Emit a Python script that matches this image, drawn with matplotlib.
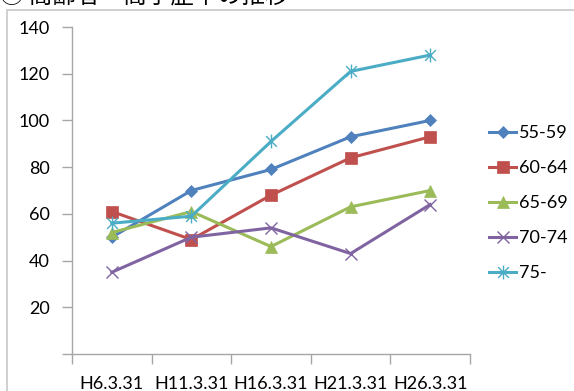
import matplotlib
matplotlib.use('Agg')
import matplotlib.pyplot as plt
from matplotlib.path import Path
from matplotlib.patches import Rectangle

plt.rcParams['font.family'] = ['Lato', 'Noto Sans CJK JP', 'DejaVu Sans']

# data
periods = ['H6.3.31', 'H11.3.31', 'H16.3.31', 'H21.3.31', 'H26.3.31']
age_groups = ['55-59', '60-64', '65-69', '70-74', '75-']
v_55_59 = [50, 70, 79, 93, 100]
v_60_64 = [61, 49, 68, 84, 93]
v_65_69 = [52, 61, 46, 63, 70]
v_70_74 = [35, 50, 54, 43, 64]
v_75 = [56, 59, 91, 121, 128]
title = '① 高齢者・高学歴率の推移'

# excel style "star" marker: an x with a vertical stroke
star = Path([(-1, -1), (1, 1), (-1, 1), (1, -1), (0, -1.3), (0, 1.3)],
            [Path.MOVETO, Path.LINETO, Path.MOVETO, Path.LINETO, Path.MOVETO, Path.LINETO])

series = [v_55_59, v_60_64, v_65_69, v_70_74, v_75]
colors = ['#4F81BD', '#C0504D', '#9BBB59', '#8064A2', '#4BACC6']
markers = ['D', 's', '^', 'x', star]
msizes = [6, 9, 8, 9, 10]

fig = plt.figure(figsize=(5.74, 3.91), dpi=100)
ax = fig.add_axes([72/574, 1-354/391, (470-72)/574, (354-27)/391])

x = list(range(len(periods)))
for vals, lab, c, m, ms in zip(series, age_groups, colors, markers, msizes):
    ax.plot(x, vals, color=c, lw=2.2, marker=m, markersize=ms,
            markeredgewidth=1.0 if m in ('x',) or m is star else 0.5,
            markeredgecolor=c, label=lab)

ax.set_xlim(-0.5, 4.5)
ax.set_ylim(0, 140)
ax.set_yticks(range(0, 141, 20))
ax.set_yticklabels([''] + [str(v) for v in range(20, 141, 20)])
ax.set_xticks(x)
ax.set_xticklabels(periods)
ax.set_xticks([i - 0.5 for i in range(6)], minor=True)
ax.tick_params(axis='x', which='major', length=0, pad=16, labelsize=13)
ax.tick_params(axis='x', which='minor', length=7, color='#A6A6A6', width=1)
ax.tick_params(axis='y', length=7, color='#A6A6A6', width=1, pad=9, labelsize=13)
for s in ['top', 'right']:
    ax.spines[s].set_visible(False)
for s in ['left', 'bottom']:
    ax.spines[s].set_color('#A6A6A6')
    ax.spines[s].set_linewidth(1)

fig.legend(loc='center left', bbox_to_anchor=(489/574, 1 - 203/391), frameon=False,
           fontsize=13, handlelength=1.5, handletextpad=0.15, labelspacing=1.05,
           borderpad=0, borderaxespad=0)

# chart-area frame, only its top and left edges are in view
fig.patches.append(Rectangle((7/574, -0.1), 1.2, 1 - 10/391 + 0.1,
                             transform=fig.transFigure, fill=False,
                             edgecolor='#C8C8C8', lw=1.2))
fig.text(0.0, 1 + 4/391, title, fontsize=17, va='center', ha='left',
         family=['Noto Sans CJK JP', 'DejaVu Sans'])

fig.savefig('out.png', dpi=100)
